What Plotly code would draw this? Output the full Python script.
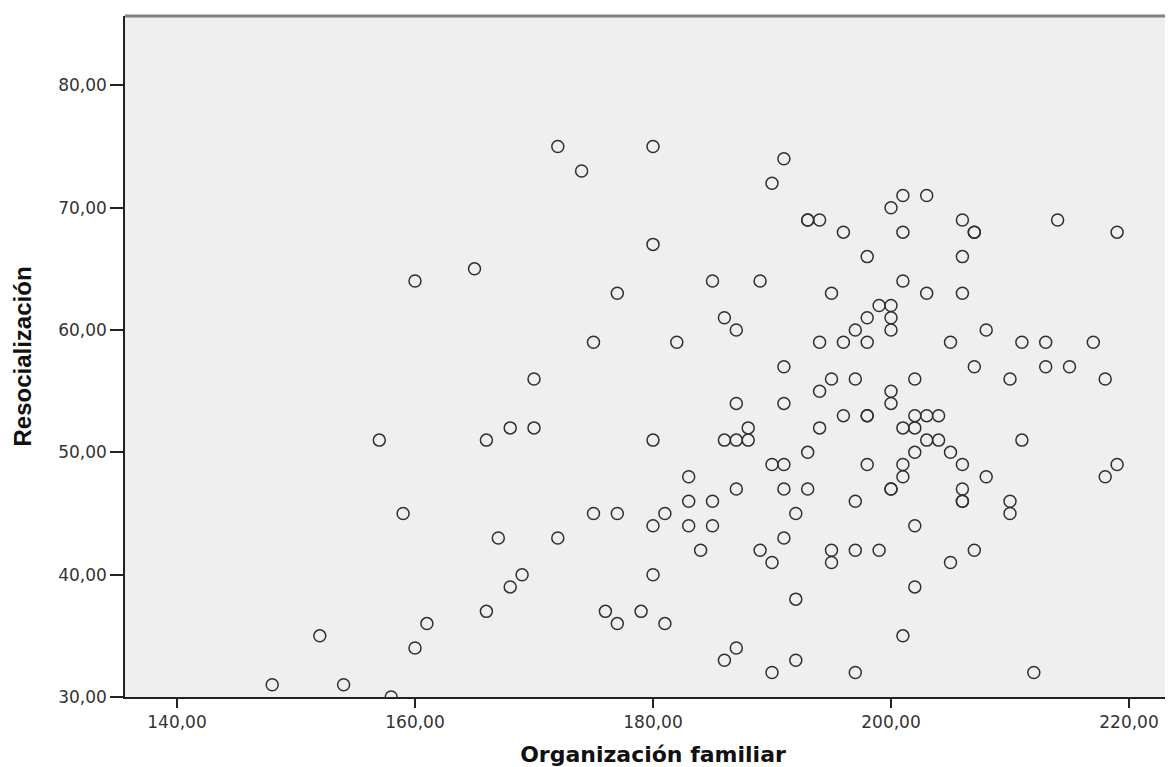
import plotly.graph_objects as go

# Organización familiar (x) and Resocialización (y)
org_familiar = [
    148, 152, 154, 157, 158, 159, 160, 160, 161, 165,
    166, 166, 167, 168, 168, 169, 170, 170, 172, 172,
    174, 175, 175, 176, 177, 177, 177, 179, 180, 180,
    180, 180, 180, 181, 181, 182, 183, 183, 183, 184,
    185, 185, 185, 186, 186, 186, 187, 187, 187, 187,
    187, 188, 188, 189, 189, 190, 190, 190, 190, 191,
    191, 191, 191, 191, 191, 192, 192, 192, 193, 193,
    193, 193, 194, 194, 194, 194, 195, 195, 195, 195,
    196, 196, 196, 197, 197, 197, 197, 197, 198, 198,
    198, 198, 198, 198, 199, 199, 200, 200, 200, 200,
    200, 200, 200, 200, 201, 201, 201, 201, 201, 201,
    201, 202, 202, 202, 202, 202, 202, 203, 203, 203,
    203, 204, 204, 205, 205, 205, 206, 206, 206, 206,
    206, 206, 206, 207, 207, 207, 207, 208, 208, 210,
    210, 210, 211, 211, 212, 213, 213, 214, 215, 217,
    218, 218, 219, 219,
]
resocializacion = [
    31, 35, 31, 51, 30, 45, 64, 34, 36, 65,
    51, 37, 43, 52, 39, 40, 56, 52, 75, 43,
    73, 59, 45, 37, 63, 45, 36, 37, 75, 67,
    51, 44, 40, 45, 36, 59, 48, 46, 44, 42,
    64, 46, 44, 61, 51, 33, 60, 54, 51, 47,
    34, 52, 51, 64, 42, 72, 49, 41, 32, 74,
    57, 54, 49, 47, 43, 45, 38, 33, 69, 69,
    50, 47, 69, 59, 55, 52, 63, 56, 42, 41,
    68, 59, 53, 60, 56, 46, 42, 32, 66, 61,
    59, 53, 53, 49, 62, 42, 70, 62, 61, 60,
    55, 54, 47, 47, 71, 68, 64, 52, 49, 48,
    35, 56, 53, 52, 50, 44, 39, 71, 63, 53,
    51, 53, 51, 59, 50, 41, 69, 66, 63, 49,
    47, 46, 46, 68, 68, 57, 42, 60, 48, 56,
    46, 45, 59, 51, 32, 59, 57, 69, 57, 59,
    56, 48, 68, 49,
]

x_ticks = [140, 160, 180, 200, 220]
y_ticks = [30, 40, 50, 60, 70, 80]

fig = go.Figure()
fig.add_trace(go.Scatter(
    x=org_familiar,
    y=resocializacion,
    mode="markers",
    marker=dict(symbol="circle-open", size=12, color="#303030",
                line=dict(width=1.5, color="#303030")),
    showlegend=False,
    hoverinfo="x+y",
))

tick_font = dict(family="DejaVu Sans, Verdana, sans-serif", size=17, color="#333333")

fig.update_layout(
    width=1173,
    height=767,
    margin=dict(l=117, r=0, t=8, b=78),
    paper_bgcolor="white",
    plot_bgcolor="#EFEFEF",
    separators=",.",
    xaxis=dict(
        range=[135.63, 224.37],
        tickvals=x_ticks,
        tickformat=".2f",
        ticks="outside",
        ticklen=9,
        tickwidth=1.5,
        tickcolor="#222222",
        showgrid=False,
        zeroline=False,
        showline=True,
        linecolor="#222222",
        linewidth=1.5,
        tickfont=tick_font,
        title=dict(text="Organización familiar",
                   font=dict(family="DejaVu Sans, Verdana, sans-serif", size=22, color="#111111", weight="bold"),
                   standoff=15),
    ),
    yaxis=dict(
        range=[30, 85.67],
        tickvals=y_ticks,
        tickformat=".2f",
        ticks="outside",
        ticklen=13,
        tickwidth=1.5,
        tickcolor="#222222",
        showgrid=False,
        zeroline=False,
        showline=True,
        linecolor="#222222",
        linewidth=1.5,
        tickfont=tick_font,
        title=dict(text="Resocialización",
                   font=dict(family="Liberation Sans, Arial, sans-serif", size=24, color="#111111", weight="bold"),
                   standoff=20),
    ),
    shapes=[dict(type="line", xref="paper", yref="paper", x0=0, x1=1, y0=1, y1=1,
                 line=dict(color="#808080", width=3))],
)

fig.write_html("out.html")
